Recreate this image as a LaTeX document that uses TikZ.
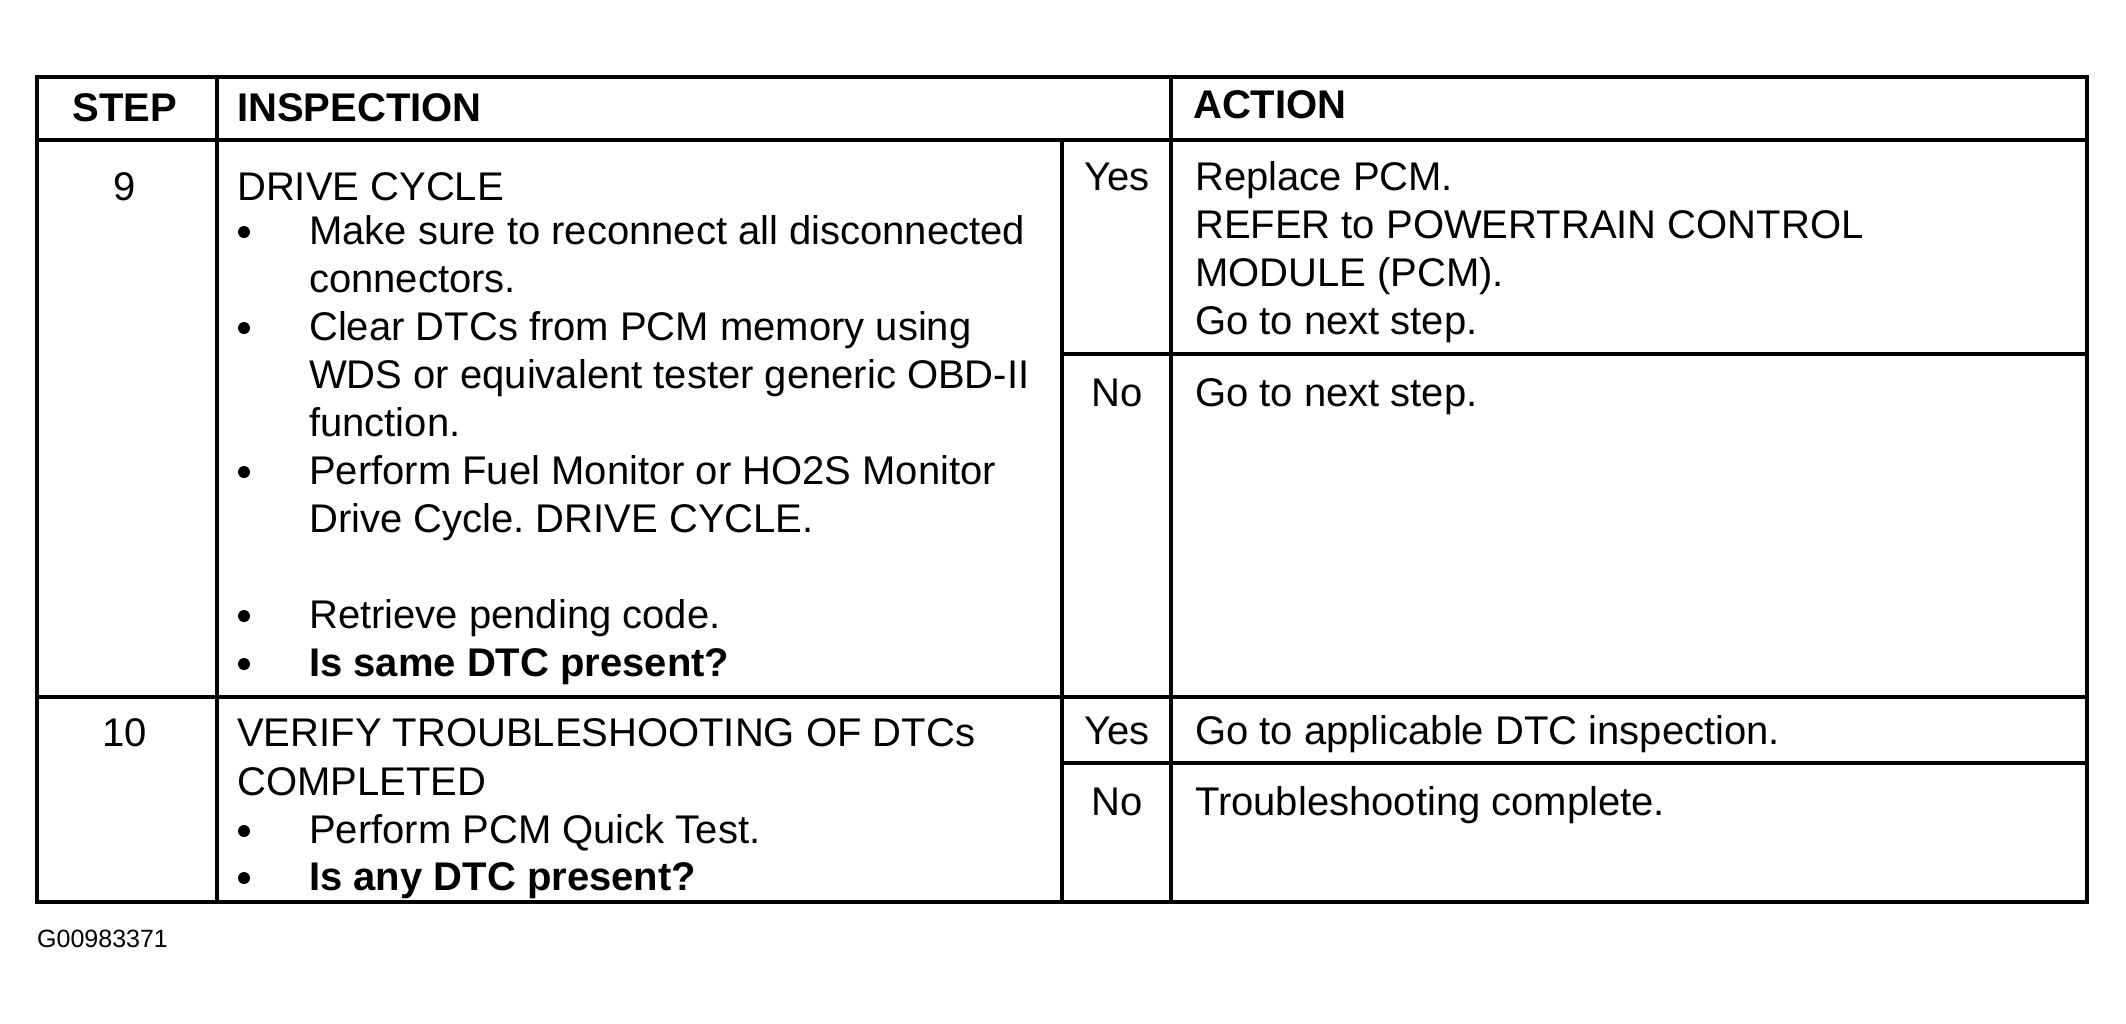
\documentclass[tikz,border=0pt]{standalone}
\usepackage{fontspec}
\setmainfont{Liberation Sans}
\frenchspacing
\pgfdeclarelayer{edgelayer}
\pgfdeclarelayer{nodelayer}
\pgfsetlayers{edgelayer,nodelayer,main}
\tikzset{x=1pt,y=-1pt,font=\fontsize{40}{48}\selectfont}
\tikzstyle{none}=[inner sep=0pt]
\tikzstyle{txt}=[inner sep=0pt,anchor=base west]
\tikzstyle{mid}=[inner sep=0pt,anchor=base]
\tikzstyle{dot}=[circle,fill=black,inner sep=0pt,minimum size=12pt]
\tikzstyle{rule}=[line width=3.5pt]
\tikzstyle{tag}=[inner sep=0pt,anchor=base west,font=\fontsize{25}{30}\selectfont]

\begin{document}
\begin{tikzpicture}
	\begin{pgfonlayer}{nodelayer}
		% grid corners
		\node [style=none] (0) at (37, 77) {};
		\node [style=none] (1) at (2087, 77) {};
		\node [style=none] (2) at (37, 902) {};
		\node [style=none] (3) at (2087, 902) {};
		\node [style=none] (4) at (37, 140) {};
		\node [style=none] (5) at (2087, 140) {};
		\node [style=none] (6) at (37, 697) {};
		\node [style=none] (7) at (2087, 697) {};
		\node [style=none] (8) at (217, 77) {};
		\node [style=none] (9) at (217, 902) {};
		\node [style=none] (10) at (1171, 77) {};
		\node [style=none] (11) at (1171, 902) {};
		\node [style=none] (12) at (1062, 140) {};
		\node [style=none] (13) at (1062, 902) {};
		\node [style=none] (14) at (1062, 354) {};
		\node [style=none] (15) at (2087, 354) {};
		\node [style=none] (16) at (1062, 763) {};
		\node [style=none] (17) at (2087, 763) {};
		% header
		\node [style=mid] (hs) at (125, 121) {\bfseries STEP};
		\node [style=txt] (hi) at (237, 121) {\bfseries INSPECTION};
		\node [style=txt] (ha) at (1193, 118) {\bfseries ACTION};
		% step 9
		\node [style=mid] (n9) at (125, 200) {9};
		\node [style=txt] (i0) at (237, 200) {DRIVE CYCLE};
		\node [style=dot] (b1) at (244, 232) {};
		\node [style=txt] (i1) at (309, 244) {Make sure to reconnect all disconnected};
		\node [style=txt] (i2) at (309, 292) {connectors.};
		\node [style=dot] (b2) at (244, 328) {};
		\node [style=txt] (i3) at (309, 340) {Clear DTCs from PCM memory using};
		\node [style=txt] (i4) at (309, 388) {WDS or equivalent tester generic OBD-II};
		\node [style=txt] (i5) at (309, 436) {function.};
		\node [style=dot] (b3) at (244, 472) {};
		\node [style=txt] (i6) at (309, 484) {Perform Fuel Monitor or HO2S Monitor};
		\node [style=txt] (i7) at (309, 532) {Drive Cycle. DRIVE CYCLE.};
		\node [style=dot] (b4) at (244, 616) {};
		\node [style=txt] (i8) at (309, 628) {Retrieve pending code.};
		\node [style=dot] (b5) at (244, 664) {};
		\node [style=txt] (i9) at (309, 676) {\bfseries Is same DTC present?};
		\node [style=mid] (y9) at (1117, 190) {Yes};
		\node [style=txt] (a1) at (1195, 190) {Replace PCM.};
		\node [style=txt] (a2) at (1195, 238) {REFER to POWERTRAIN CONTROL};
		\node [style=txt] (a3) at (1195, 286) {MODULE (PCM).};
		\node [style=txt] (a4) at (1195, 334) {Go to next step.};
		\node [style=mid] (o9) at (1117, 406) {No};
		\node [style=txt] (a5) at (1195, 406) {Go to next step.};
		% step 10
		\node [style=mid] (n10) at (125, 746) {10};
		\node [style=txt] (j0) at (237, 746) {VERIFY TROUBLESHOOTING OF DTCs};
		\node [style=txt] (j1) at (237, 795) {COMPLETED};
		\node [style=dot] (b6) at (244, 831) {};
		\node [style=txt] (j2) at (309, 843) {Perform PCM Quick Test.};
		\node [style=dot] (b7) at (244, 878) {};
		\node [style=txt] (j3) at (309, 890) {\bfseries Is any DTC present?};
		\node [style=mid] (y10) at (1117, 744) {Yes};
		\node [style=txt] (c1) at (1195, 744) {Go to applicable DTC inspection.};
		\node [style=mid] (o10) at (1117, 815) {No};
		\node [style=txt] (c2) at (1195, 815) {Troubleshooting complete.};
		\node [style=tag] (g) at (37, 947) {G00983371};
	\end{pgfonlayer}
	\begin{pgfonlayer}{edgelayer}
		\path [fill=white] (0, 0) rectangle (2126, 1023);
		\draw [style=rule] (0.center) rectangle (3.center);
		\draw [style=rule] (4.center) to (5.center);
		\draw [style=rule] (6.center) to (7.center);
		\draw [style=rule] (8.center) to (9.center);
		\draw [style=rule] (10.center) to (11.center);
		\draw [style=rule] (12.center) to (13.center);
		\draw [style=rule] (14.center) to (15.center);
		\draw [style=rule] (16.center) to (17.center);
	\end{pgfonlayer}
	\useasboundingbox (0, 0) rectangle (2126, 1023);
\end{tikzpicture}
\end{document}
